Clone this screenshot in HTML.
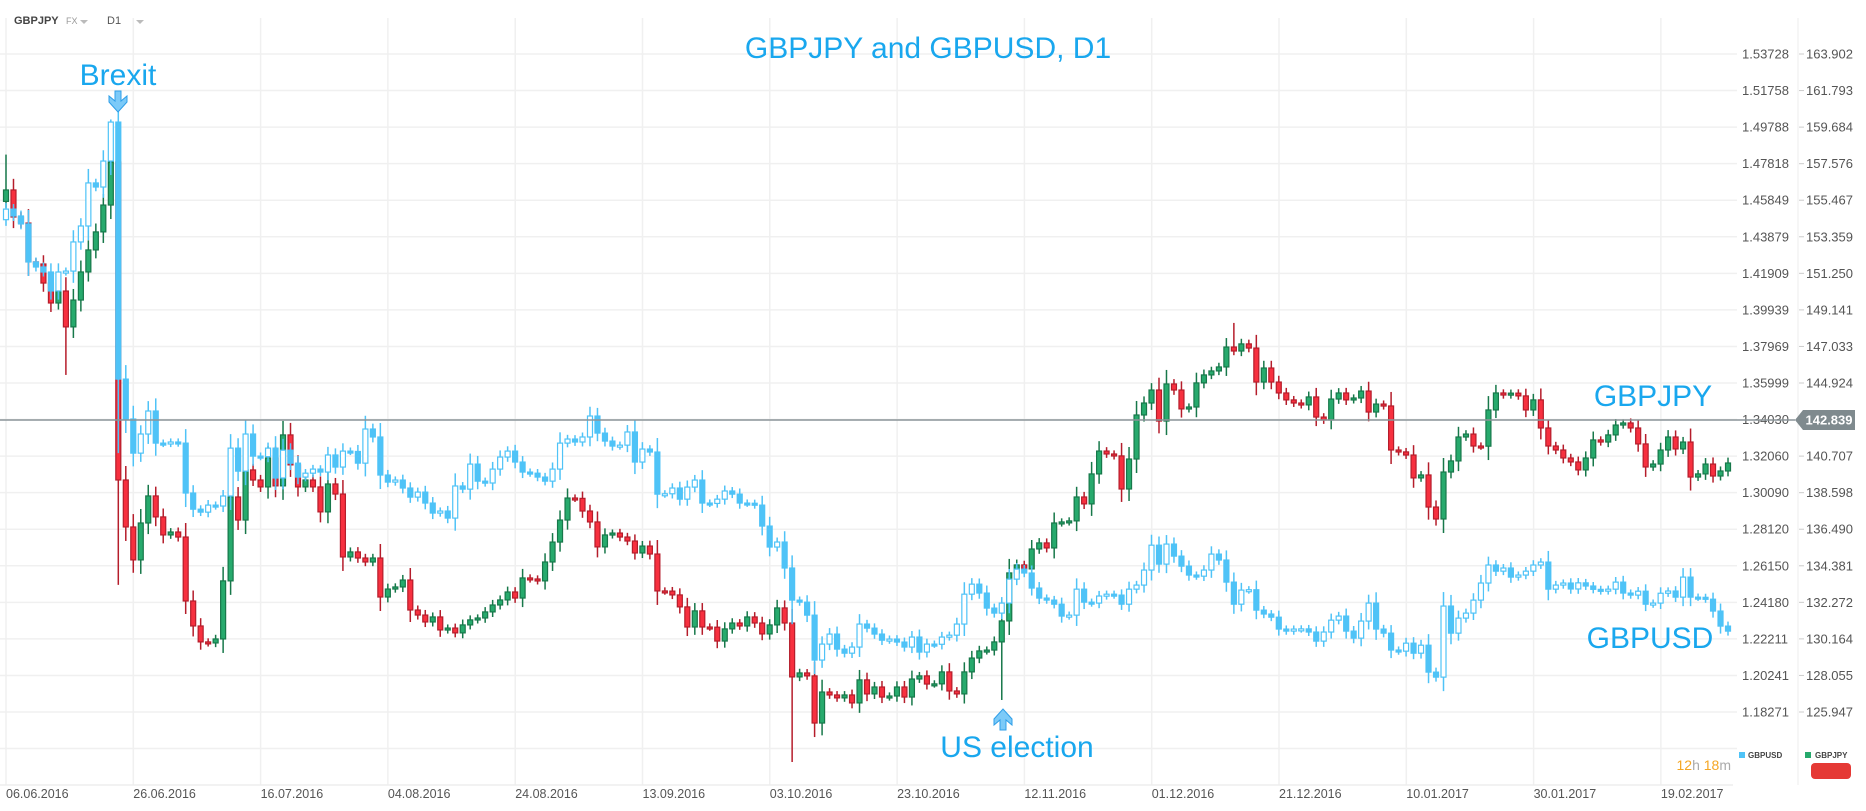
<!DOCTYPE html>
<html><head><meta charset="utf-8">
<style>
html,body{margin:0;padding:0;background:#fff;width:1866px;height:811px;overflow:hidden}
svg{display:block;font-family:"Liberation Sans",sans-serif}
</style></head>
<body>
<svg id="chart" width="1866" height="811" viewBox="0 0 1866 811" xmlns="http://www.w3.org/2000/svg">
  <rect x="0" y="0" width="1866" height="811" fill="#ffffff"/>
  <g id="grid"></g>
  <g id="series-jpy"></g>
  <g id="series-usd"></g>
  <g id="axes"></g>
  <line x1="0" y1="420" x2="1795" y2="420" stroke="#8a9498" stroke-width="1.5"/>
  <g>
    <polygon points="1795,420 1803,410 1855,410 1855,430 1803,430" fill="#7f8a8e"/>
    <text x="1829" y="424.5" font-size="13" font-weight="bold" fill="#ffffff" text-anchor="middle">142.839</text>
  </g>
  <g>
    <text x="14" y="24" font-size="11" font-weight="bold" fill="#444">GBPJPY</text>
    <text x="66" y="24" font-size="9" fill="#999">FX</text>
    <polygon points="80,20 88,20 84,24" fill="#bbb"/>
    <text x="107" y="24" font-size="11" fill="#555">D1</text>
    <polygon points="136,20 144,20 140,24" fill="#bbb"/>
  </g>
  <text x="928" y="58" font-size="30" fill="#19a7ee" text-anchor="middle">GBPJPY and GBPUSD, D1</text>
  <text x="118" y="85" font-size="30" fill="#19a7ee" text-anchor="middle">Brexit</text>
  <path d="M115,91 h6 v10 l6,-5 v6 l-9,10 l-9,-10 v-6 l6,5 z" fill="#7ccaf8" stroke="#2f9fe8" stroke-width="1"/>
  <text x="1017" y="757" font-size="30" fill="#19a7ee" text-anchor="middle">US election</text>
  <path d="M1000,730 h6 v-10 l6,5 v-6 l-9,-10 l-9,10 v6 l6,-5 z" fill="#7ccaf8" stroke="#2f9fe8" stroke-width="1"/>
  <text x="1653" y="406" font-size="30" fill="#19a7ee" text-anchor="middle">GBPJPY</text>
  <text x="1650" y="648" font-size="30" fill="#19a7ee" text-anchor="middle">GBPUSD</text>
  <g>
    <text x="1731" y="770" font-size="14" text-anchor="end"><tspan fill="#f5a623">12</tspan><tspan fill="#aaa">h </tspan><tspan fill="#f5a623">18</tspan><tspan fill="#aaa">m</tspan></text>
  </g>
  <g>
    <rect x="1739" y="752" width="6" height="6" fill="#4fc3f7"/>
    <text x="1748" y="758" font-size="8" font-weight="bold" fill="#444">GBPUSD</text>
    <rect x="1805" y="752" width="6" height="6" fill="#26a96c"/>
    <text x="1815" y="758" font-size="8" font-weight="bold" fill="#444">GBPJPY</text>
    <rect x="1811" y="763" width="40" height="16" rx="4" fill="#e53935"/>
  </g>
</svg>
<script>
const usdTicks = [1.53728,1.51758,1.49788,1.47818,1.45849,1.43879,1.41909,1.39939,1.37969,1.35999,1.34030,1.32060,1.30090,1.28120,1.26150,1.24180,1.22211,1.20241,1.18271];
const jpyTicks = ["163.902","161.793","159.684","157.576","155.467","153.359","151.250","149.141","147.033","144.924","","140.707","138.598","136.490","134.381","132.272","130.164","128.055","125.947"];
const dateLabels = ["06.06.2016","26.06.2016","16.07.2016","04.08.2016","24.08.2016","13.09.2016","03.10.2016","23.10.2016","12.11.2016","01.12.2016","21.12.2016","10.01.2017","30.01.2017","19.02.2017"];

const usdClose = [1.4537,1.4500,1.4457,1.4252,1.4225,1.4198,1.4096,1.4198,1.4203,1.4360,
1.4446,1.4678,1.4656,1.4796,1.5006,1.3621,1.3406,1.3222,1.3325,1.3449,
1.3276,1.3274,1.3282,1.3276,1.3007,1.2920,1.2904,1.2942,1.2937,1.2991,
1.3249,1.3125,1.3325,1.3206,1.3203,1.3249,1.3088,1.3238,1.3168,1.3093,
1.3114,1.3136,1.3120,1.3212,1.3147,1.3233,1.3231,1.3168,1.3352,1.3309,
1.3104,1.3066,1.3077,1.3034,1.2985,1.3012,1.2953,1.2899,1.2910,1.2872,
1.3045,1.3028,1.3163,1.3071,1.3061,1.3136,1.3201,1.3233,1.3174,1.3120,
1.3114,1.3093,1.3071,1.3136,1.3276,1.3298,1.3282,1.3309,1.3422,1.3330,
1.3287,1.3260,1.3265,1.3336,1.3174,1.3244,1.3228,1.3001,1.3003,1.3034,
1.2974,1.3039,1.3077,1.2953,1.2951,1.2974,1.3018,1.3001,1.2953,1.2952,
1.2942,1.2829,1.2716,1.2743,1.2603,1.2430,1.2419,1.2349,1.2107,1.2193,
1.2247,1.2166,1.2144,1.2177,1.2301,1.2279,1.2247,1.2214,1.2220,1.2204,
1.2177,1.2231,1.2150,1.2193,1.2192,1.2231,1.2241,1.2301,1.2462,1.2516,
1.2468,1.2387,1.2360,1.2414,1.2543,1.2597,1.2576,1.2495,1.2441,1.2430,
1.2408,1.2344,1.2349,1.2489,1.2419,1.2414,1.2452,1.2462,1.2457,1.2408,
1.2489,1.2511,1.2592,1.2726,1.2624,1.2732,1.2667,1.2613,1.2565,1.2559,
1.2592,1.2678,1.2646,1.2527,1.2408,1.2484,1.2486,1.2376,1.2355,1.2338,
1.2274,1.2263,1.2274,1.2275,1.2258,1.2209,1.2258,1.2322,1.2344,1.2263,
1.2225,1.2317,1.2414,1.2274,1.2252,1.2161,1.2155,1.2198,1.2144,1.2187,
1.2042,1.2015,1.2398,1.2252,1.2333,1.2360,1.2430,1.2522,1.2619,1.2586,
1.2603,1.2554,1.2565,1.2586,1.2619,1.2635,1.2489,1.2511,1.2522,1.2490,
1.2523,1.2506,1.2488,1.2479,1.2489,1.2527,1.2468,1.2457,1.2478,1.2408,
1.2414,1.2467,1.2479,1.2446,1.2554,1.2446,1.2445,1.2435,1.2371,1.2290,
1.2263];

const jpyClose = [156.06,154.50,154.15,151.91,151.79,150.69,149.54,150.23,148.16,149.71,
151.33,152.60,153.64,155.19,157.67,139.33,136.62,134.72,136.85,138.41,
137.20,136.16,136.33,136.04,132.35,130.91,129.99,129.93,130.16,133.51,
138.35,137.02,139.91,139.33,138.93,140.60,138.99,141.93,140.20,138.93,
139.33,138.93,137.49,139.10,138.52,134.89,135.18,134.83,134.60,134.83,
132.58,133.04,133.16,133.56,131.83,131.54,131.14,131.43,130.68,130.79,
130.51,130.97,131.26,131.37,131.72,132.12,132.41,132.87,132.52,133.68,
133.62,133.51,134.60,135.75,137.02,138.29,138.27,137.54,136.91,135.47,
136.16,136.27,136.04,135.81,135.12,135.52,135.06,132.93,132.92,132.70,
132.01,130.85,131.78,130.85,130.84,130.04,130.74,131.08,130.91,131.43,
131.08,130.45,130.97,131.95,131.08,127.97,128.20,128.03,125.31,127.10,
126.93,126.76,126.93,126.47,127.80,126.99,127.39,126.81,126.87,127.39,
126.81,127.85,128.03,127.56,127.57,128.26,127.16,126.99,128.26,129.06,
129.47,129.52,129.99,131.20,133.97,134.43,134.20,135.35,135.70,135.41,
136.85,136.91,136.97,138.35,137.95,139.68,141.00,140.83,140.72,138.81,
140.54,143.08,143.77,144.52,142.73,144.87,144.52,143.43,143.54,144.93,
145.39,145.62,145.85,147.00,146.77,147.18,146.94,144.98,145.79,144.98,
144.35,143.95,143.77,143.66,144.12,142.96,142.79,144.00,144.35,143.95,
144.06,144.46,143.25,143.71,143.60,141.06,140.95,140.77,139.45,139.62,
137.77,137.08,139.79,140.43,141.81,141.98,141.29,141.28,143.37,144.35,
144.23,144.34,144.18,143.37,143.95,142.33,141.29,141.06,140.60,140.37,
139.91,140.60,141.64,141.52,141.93,142.50,142.62,142.33,141.41,140.08,
140.25,141.06,141.81,141.12,141.52,139.50,139.68,140.25,139.56,139.85,
140.31];

/* first-candle opens */
const usdFirstOpen = 1.4480;
const jpyFirstOpen = 155.40;
/* notable wick extremes: [candle index, price] */
const jpyLows = [[8,145.39],[15,133.28],[105,123.06],[133,126.64],[24,131.6]];
const jpyHighs = [[164,148.39],[0,158.1]];
const usdLows = [[15,1.3222],[105,1.2300]];
const usdHighs = [[14,1.5020]];

const NS = "http://www.w3.org/2000/svg";
const svg = document.getElementById('chart');
const gGrid = document.getElementById('grid');
const gAxes = document.getElementById('axes');
const gJ = document.getElementById('series-jpy');
const gU = document.getElementById('series-usd');

const TOP = 54, BOT = 712;
function yUsd(v){ return TOP + (1.53728 - v) / (1.53728 - 1.18271) * (BOT - TOP); }
function yJpy(v){ return TOP + (163.902 - v) / (163.902 - 125.947) * (BOT - TOP); }
function xOf(i){ return 6 + i * 7.487; }

function mk(tag, attrs, parent){
  const e = document.createElementNS(NS, tag);
  for (const k in attrs) e.setAttribute(k, attrs[k]);
  parent.appendChild(e);
  return e;
}

// grid
for (let k = 0; k < 20; k++) {
  const y = TOP + k * (BOT - TOP) / 18;
  const l = mk('line', {x1:0, y1:y, x2:1737, y2:y, stroke:'#f0f0f0', 'stroke-width':1.5}, gGrid);
  
  
}
for (let k = 0; k < dateLabels.length; k++) {
  const x = 6 + k * 127.3;
  const l = mk('line', {x1:x, y1:18, x2:x, y2:785, stroke:'#f0f0f0', 'stroke-width':1.5}, gGrid);
  
  
}
const sep = mk('line', {x1:1798, y1:18, x2:1798, y2:785, stroke:'#eeeeee', 'stroke-width':1}, gGrid);


const xb = mk('line', {x1:0, y1:785, x2:1733, y2:785, stroke:'#eeeeee', 'stroke-width':1.5}, gGrid);



// y tick labels
usdTicks.forEach((v, k) => {
  const y = yUsd(v);
  const t = mk('text', {x:1742, y:y + 4.5, 'font-size':13, fill:'#555'}, gAxes);
  t.textContent = v.toFixed(5);
  
  
  if (jpyTicks[k]) {
    const tk = mk('line', {x1:1799, y1:y, x2:1804, y2:y, stroke:'#ccc'}, gAxes);
    
    
    const t2 = mk('text', {x:1806, y:y + 4.5, 'font-size':13, fill:'#555'}, gAxes);
    t2.textContent = jpyTicks[k];
    
    
  }
});
// x tick labels
dateLabels.forEach((d, k) => {
  const t = mk('text', {x:6 + k * 127.3, y:798, 'font-size':12.5, fill:'#555'}, gAxes);
  t.textContent = d;
  
  
});

function lookup(arr, i){ for (const p of arr) if (p[0] === i) return p[1]; return null; }

function drawSeries(closes, firstOpen, yf, lows, highs, g, kind){
  for (let i = 0; i < closes.length; i++) {
    const o = i === 0 ? firstOpen : closes[i - 1];
    const c = closes[i];
    const yo = yf(o), yc = yf(c);
    const top = Math.min(yo, yc), bot = Math.max(yo, yc);
    const bh = Math.max(bot - top, 2);
    const ext = Math.min(3 + 0.3 * bh, 14);
    let yh = top - ext, yl = bot + ext;
    const hv = lookup(highs, i), lv = lookup(lows, i);
    if (hv !== null) yh = yf(hv);
    if (lv !== null) yl = yf(lv);
    const x = xOf(i);
    const up = c >= o;
    let stroke, fill;
    if (kind === 'jpy') { stroke = up ? '#17784a' : '#b51d2b'; fill = up ? '#27aa6d' : '#f7303f'; }
    else { stroke = '#4fc3f7'; fill = up ? '#ffffff' : '#4fc3f7'; }
    const w = mk('line', {x1:x, y1:yh, x2:x, y2:yl, stroke:stroke, 'stroke-width':1.5}, g);
    
    
    const b = mk('rect', {x:x - 2.5, y:top, width:5, height:bh, fill:fill, stroke:stroke, 'stroke-width':1.2}, g);
    
    
  }
}
drawSeries(jpyClose, jpyFirstOpen, yJpy, jpyLows, jpyHighs, gJ, 'jpy');
drawSeries(usdClose, usdFirstOpen, yUsd, usdLows, usdHighs, gU, 'usd');
</script>
</body></html>
